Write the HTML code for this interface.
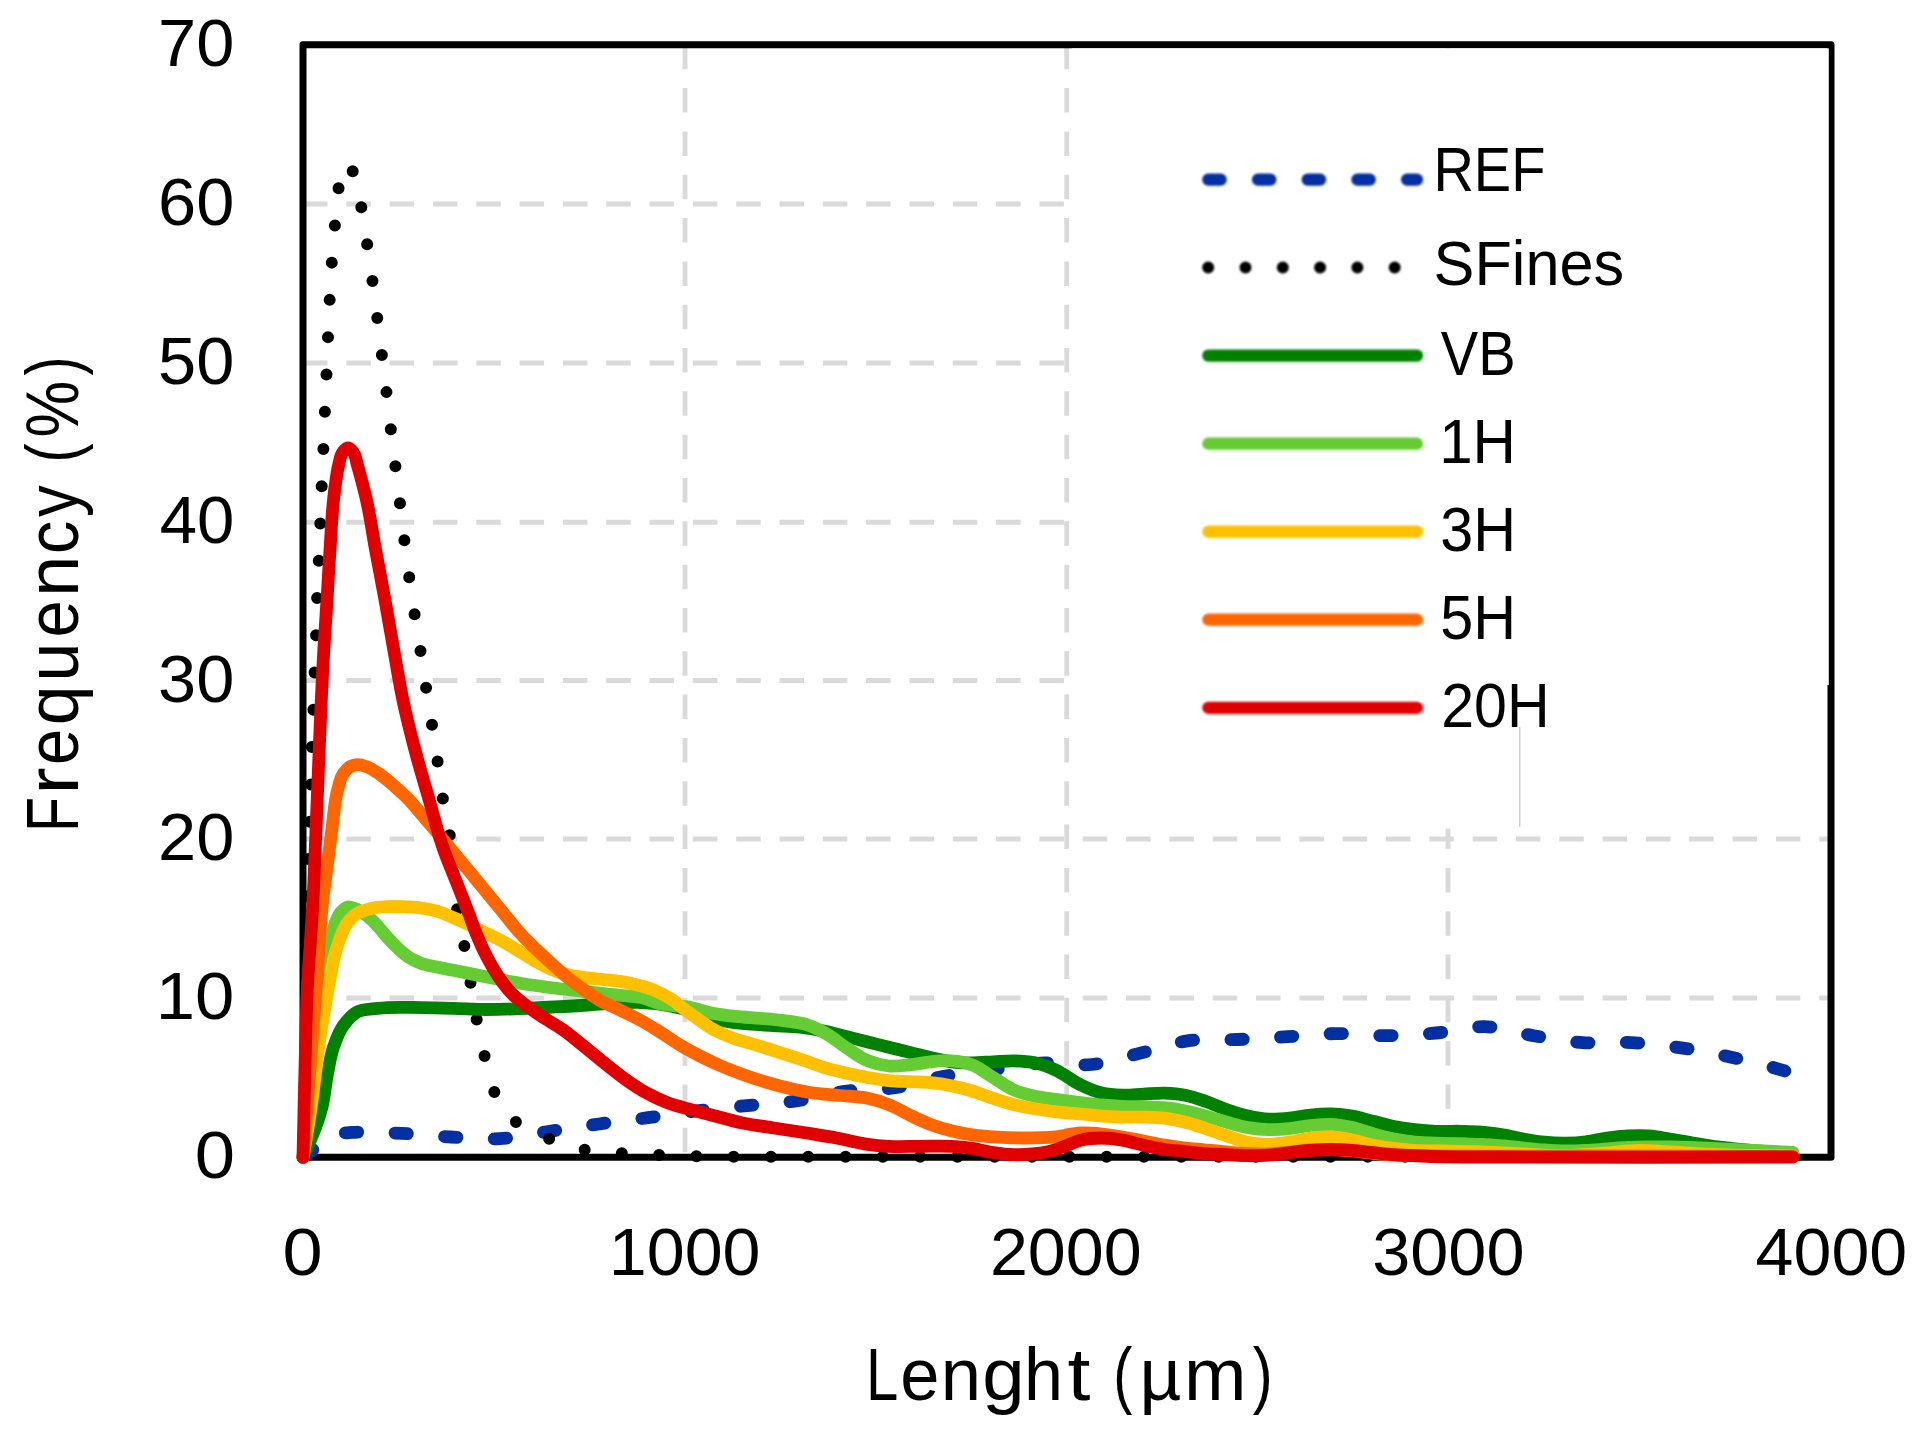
<!DOCTYPE html>
<html lang="en"><head><meta charset="utf-8"><title>Fibre length distribution</title>
<style>
html,body{margin:0;padding:0;background:#fff}
body{width:1924px;height:1437px;overflow:hidden}
svg{display:block;filter:blur(.75px)}
text{font-family:"Liberation Sans",sans-serif;fill:#000}
.g{stroke:#dadada;stroke-width:4.9;stroke-dasharray:24.5 18.82;fill:none}
.s{fill:none;stroke-width:12.8;stroke-linecap:round;stroke-linejoin:round}
</style></head><body>
<svg width="1924" height="1437" viewBox="0 0 1924 1437">
<rect width="1924" height="1437" fill="#fff"/>
<g class="g">
<path d="M303.0 998.0H1831.0"/>
<path d="M303.0 839.0H1831.0"/>
<path d="M303.0 680.5H1831.0"/>
<path d="M303.0 522.3H1831.0"/>
<path d="M303.0 363.0H1831.0"/>
<path d="M303.0 204.0H1831.0"/>
<path d="M685.0 44.8V1157.3"/>
<path d="M1066.7 44.8V1157.3"/>
<path d="M1448.0 44.8V1157.3"/>
</g>
<path d="M303.0 44.8H1831.0V1157.3H303.0Z" fill="none" stroke="#000" stroke-width="7" stroke-linejoin="round"/>
<rect x="1072" y="48.4" width="756.8" height="636.6" fill="#fff"/>
<rect x="1072" y="684" width="447.7" height="144.5" fill="#fff"/>
<path d="M1519.7 727V827" stroke="#cfcfcf" stroke-width="1.4" fill="none"/>
<g class="s">
<path d="M303.0 1157.3C306.3 1154.7 309.7 1152.1 313.0 1149.5C317.0 1146.3 320.7 1142.6 325.0 1140.0C329.9 1137.1 335.4 1134.7 341.0 1133.5C344.6 1132.7 348.3 1132.7 352.0 1132.4C368.5 1131.1 385.2 1132.6 401.7 1133.4C418.1 1134.2 434.4 1136.1 450.8 1137.0C467.1 1137.9 483.5 1139.5 499.8 1138.6C516.6 1137.7 533.2 1133.8 549.9 1131.3C566.3 1128.9 582.6 1126.3 599.0 1124.0C615.3 1121.7 631.7 1119.9 648.0 1117.7C664.2 1115.5 680.4 1112.9 696.7 1110.9C713.4 1108.9 730.1 1107.3 746.8 1105.6C763.2 1104.0 779.6 1103.3 795.9 1101.0C813.1 1098.5 829.8 1093.2 847.0 1091.0C862.2 1089.1 877.8 1090.1 893.0 1088.0C910.2 1085.6 926.9 1079.5 944.0 1076.4C961.6 1073.2 979.5 1071.3 997.3 1069.0C1013.3 1066.9 1029.2 1063.7 1045.3 1063.0C1060.6 1062.3 1076.2 1065.9 1091.3 1064.5C1107.5 1063.0 1123.4 1057.3 1139.3 1053.4C1155.4 1049.5 1171.0 1043.2 1187.3 1040.9C1203.8 1038.5 1220.8 1040.2 1237.5 1039.5C1254.0 1038.8 1270.6 1037.7 1287.1 1036.7C1303.6 1035.7 1320.1 1033.8 1336.6 1033.6C1353.0 1033.4 1369.3 1035.8 1385.7 1035.7C1402.4 1035.6 1419.2 1034.5 1435.8 1033.0C1452.1 1031.5 1468.3 1026.3 1484.5 1026.7C1500.9 1027.1 1517.1 1033.0 1533.5 1035.7C1549.8 1038.3 1566.2 1041.5 1582.6 1042.6C1598.9 1043.7 1615.3 1041.8 1631.6 1042.6C1648.1 1043.5 1664.7 1045.4 1681.1 1047.8C1697.6 1050.2 1713.9 1053.4 1730.2 1057.0C1746.4 1060.5 1762.6 1064.4 1778.6 1069.1C1783.4 1070.5 1788.2 1072.0 1793.0 1073.5" stroke="#022fa2" stroke-dasharray="12.4 37.3"/>
<path d="M303.0 1157.3C303.8 1120.1 304.8 1083.0 305.5 1045.8C306.7 983.4 306.3 921.0 308.4 858.7C308.8 846.2 309.4 833.6 309.8 821.1C310.2 808.6 310.5 796.0 310.9 783.5C311.2 771.1 311.5 758.7 311.9 746.3C312.3 734.1 313.0 722.0 313.4 709.8C313.9 697.3 314.2 684.7 314.6 672.2C315.1 659.7 315.7 647.1 316.1 634.6C316.5 622.4 316.7 610.1 317.1 597.9C317.6 585.4 318.3 573.0 318.8 560.5C319.3 548.0 319.8 535.4 320.3 522.9C320.8 510.7 321.2 498.4 321.7 486.2C322.2 473.7 322.9 461.1 323.4 448.6C323.9 436.1 324.4 423.7 324.9 411.2C325.4 398.7 326.0 386.3 326.5 373.8C327.0 361.5 327.5 349.2 328.0 336.9C328.5 324.4 329.1 312.0 329.7 299.5C330.3 287.1 330.9 274.8 331.8 262.4C332.7 250.1 333.8 237.7 334.9 225.4C336.0 212.9 336.6 200.4 338.6 188.0C339.3 183.7 339.8 179.3 341.0 175.1C342.1 171.1 342.5 163.0 345.3 163.5C346.5 163.7 348.4 165.4 349.6 166.6C350.8 167.9 351.7 169.6 352.6 171.1C359.1 181.8 359.0 195.4 361.4 207.7C363.8 219.8 365.4 232.2 367.2 244.4C369.1 256.7 370.8 269.1 372.5 281.4C374.2 293.7 375.7 306.0 377.3 318.3C378.9 330.6 380.4 343.0 381.9 355.3C383.4 367.7 385.0 380.0 386.5 392.4C388.0 404.6 389.3 416.8 390.8 429.0C392.3 441.4 393.9 453.9 395.4 466.3C396.9 478.7 398.5 491.1 400.0 503.5C401.5 515.8 402.9 528.2 404.4 540.5C405.9 552.7 407.5 565.0 409.2 577.2C410.9 589.5 412.7 601.9 414.6 614.2C416.5 626.4 418.6 638.7 420.5 650.9C422.4 663.2 424.2 675.5 426.1 687.8C428.0 700.1 430.1 712.3 432.0 724.6C433.9 736.9 435.8 749.3 437.6 761.6C439.4 773.8 440.8 786.0 442.8 798.1C444.8 810.3 448.0 822.4 449.7 834.7C451.3 846.7 451.6 858.9 452.8 871.0C454.0 883.5 455.1 896.1 457.0 908.6C458.9 921.0 462.0 933.2 464.3 945.6C466.6 958.1 468.5 970.7 470.6 983.2C472.7 995.5 474.4 1007.8 476.8 1020.0C479.1 1032.1 481.7 1044.1 484.6 1056.0C487.5 1067.9 489.1 1080.7 494.2 1091.6C499.4 1102.6 506.5 1113.9 515.5 1121.7C524.6 1129.5 537.1 1133.7 548.5 1138.4C559.7 1143.0 571.4 1147.0 583.3 1149.5C595.2 1152.0 607.7 1152.3 619.9 1153.2C632.4 1154.1 644.9 1154.5 657.4 1155.0C669.9 1155.5 682.5 1156.0 695.0 1156.3C707.4 1156.6 719.8 1156.7 732.2 1156.8C754.8 1157.0 777.4 1156.8 800.0 1156.8C866.7 1156.8 933.3 1156.8 1000.0 1156.8C1133.3 1156.8 1266.7 1156.8 1400.0 1156.8C1531.0 1156.8 1662.0 1156.8 1793.0 1156.8" stroke="#000" stroke-width="12" stroke-dasharray="0 37.3"/>
<path d="M303.0 1157.3C307.5 1146.5 312.7 1136.0 316.5 1125.0C318.6 1118.8 320.6 1112.5 322.2 1106.1C324.5 1096.5 325.2 1086.6 327.0 1076.9C328.9 1067.1 330.1 1057.1 333.3 1047.7C335.9 1040.2 338.6 1032.2 343.2 1025.8C346.8 1020.7 351.2 1015.2 356.5 1012.3C362.5 1009.0 370.6 1009.3 377.7 1008.4C392.1 1006.5 406.9 1007.5 421.5 1007.6C432.1 1007.7 442.8 1008.0 453.4 1008.3C464.5 1008.6 475.7 1009.5 486.8 1009.5C497.9 1009.5 509.1 1009.0 520.2 1008.6C531.3 1008.2 542.5 1007.6 553.6 1007.0C564.7 1006.4 575.9 1005.8 587.0 1005.0C592.5 1004.6 598.1 1004.2 603.6 1003.8C610.8 1003.3 617.9 1002.8 625.1 1002.6C630.5 1002.5 636.0 1002.3 641.4 1002.5C645.6 1002.7 649.8 1003.0 654.0 1003.5C660.3 1004.2 666.5 1005.3 672.7 1006.5C679.0 1007.8 685.3 1009.3 691.5 1011.0C697.8 1012.8 704.0 1015.1 710.3 1017.0C714.4 1018.2 718.6 1019.5 722.8 1020.5C731.0 1022.4 739.5 1023.2 747.9 1024.0C756.2 1024.8 764.6 1025.0 773.0 1025.5C782.0 1026.1 791.1 1026.2 800.0 1027.2C808.7 1028.2 817.5 1029.7 826.1 1031.5C833.1 1033.0 840.0 1035.0 847.0 1036.7C854.0 1038.5 860.9 1040.2 867.9 1042.0C874.9 1043.7 881.8 1045.5 888.8 1047.2C895.7 1048.9 902.7 1050.7 909.6 1052.4C916.6 1054.1 923.5 1056.0 930.5 1057.6C937.4 1059.2 944.4 1060.9 951.4 1061.8C958.3 1062.6 965.3 1062.8 972.3 1062.8C979.3 1062.8 986.2 1062.1 993.2 1061.8C1000.1 1061.5 1007.1 1060.6 1014.0 1060.8C1021.0 1061.0 1028.1 1061.3 1034.9 1062.8C1042.1 1064.3 1049.1 1067.1 1055.8 1070.1C1064.6 1074.1 1072.1 1080.9 1080.9 1085.0C1087.6 1088.2 1094.6 1091.4 1101.8 1093.1C1108.5 1094.7 1115.7 1095.0 1122.6 1095.2C1129.6 1095.4 1136.5 1094.5 1143.5 1094.2C1150.5 1093.8 1157.4 1092.9 1164.4 1093.1C1171.4 1093.3 1178.5 1093.8 1185.3 1095.2C1192.4 1096.6 1199.3 1099.1 1206.1 1101.5C1213.2 1104.0 1219.9 1107.3 1227.0 1109.8C1233.9 1112.2 1240.8 1114.5 1247.9 1116.1C1254.8 1117.6 1261.8 1118.9 1268.8 1119.2C1275.7 1119.5 1282.7 1118.9 1289.6 1118.2C1296.6 1117.5 1303.5 1115.7 1310.5 1115.0C1317.4 1114.3 1324.4 1113.8 1331.4 1114.0C1338.4 1114.2 1345.4 1114.9 1352.3 1116.1C1359.4 1117.3 1366.2 1119.6 1373.2 1121.3C1380.1 1123.0 1387.0 1125.1 1394.0 1126.5C1400.9 1127.9 1407.9 1128.8 1414.9 1129.6C1421.8 1130.4 1428.8 1131.0 1435.8 1131.3C1444.2 1131.7 1452.5 1131.1 1460.9 1131.3C1467.9 1131.5 1474.9 1131.6 1481.8 1132.2C1488.8 1132.8 1495.7 1133.8 1502.6 1134.9C1509.6 1136.0 1516.5 1137.8 1523.5 1139.0C1530.4 1140.2 1537.4 1141.5 1544.4 1142.2C1551.3 1142.9 1558.3 1143.3 1565.3 1143.2C1572.2 1143.1 1579.2 1142.7 1586.1 1141.8C1593.1 1140.9 1600.0 1139.0 1607.0 1138.0C1613.9 1137.0 1620.9 1136.2 1627.9 1135.9C1634.8 1135.6 1641.9 1135.4 1648.8 1135.9C1655.8 1136.4 1662.7 1137.9 1669.6 1139.0C1676.6 1140.1 1683.5 1141.3 1690.5 1142.5C1697.5 1143.7 1704.4 1145.0 1711.4 1146.0C1718.3 1147.0 1725.3 1147.7 1732.3 1148.5C1739.3 1149.2 1746.2 1149.8 1753.2 1150.5C1760.1 1151.2 1767.1 1151.9 1774.0 1152.5C1780.3 1153.1 1786.7 1153.5 1793.0 1154.0" stroke="#008200"/>
<path d="M303.0 1157.3C305.0 1138.2 307.0 1119.1 309.0 1100.0C311.0 1081.7 312.8 1063.3 315.0 1045.0C317.0 1028.3 319.0 1011.6 321.5 995.0C324.2 976.7 326.7 958.4 330.9 940.4C332.2 934.8 333.0 929.0 335.1 923.7C336.7 919.7 338.0 915.1 340.9 912.0C342.8 910.0 345.4 907.5 348.0 907.0C350.8 906.5 354.2 908.3 357.0 909.5C361.2 911.2 365.0 914.1 368.5 917.0C372.1 919.9 375.3 923.5 378.5 927.0C382.0 930.8 385.0 934.9 388.5 938.7C391.7 942.2 395.0 945.6 398.5 948.8C401.7 951.7 405.0 954.7 408.6 957.1C412.2 959.5 416.3 961.4 420.3 963.0C425.6 965.1 431.4 965.9 437.0 967.1C442.4 968.3 447.9 969.2 453.4 970.3C464.5 972.5 475.7 974.8 486.8 977.0C497.9 979.2 509.0 981.5 520.2 983.3C531.3 985.1 542.4 986.6 553.6 988.0C564.7 989.4 575.9 990.6 587.0 991.8C592.6 992.4 598.2 993.0 603.8 993.6C610.1 994.3 616.3 994.8 622.6 995.5C628.9 996.2 635.3 996.3 641.4 997.6C647.8 999.0 653.8 1002.3 660.2 1003.9C670.3 1006.4 681.2 1005.5 691.5 1007.7C697.8 1009.0 704.0 1011.3 710.3 1012.7C718.6 1014.5 727.0 1015.5 735.4 1016.4C743.7 1017.3 752.1 1017.6 760.4 1018.3C768.8 1019.0 777.2 1019.6 785.5 1020.8C792.1 1021.7 798.9 1022.3 805.3 1024.2C812.5 1026.4 819.5 1029.9 826.1 1033.6C833.5 1037.7 839.9 1043.6 847.0 1048.2C853.8 1052.6 860.4 1057.8 867.9 1060.8C874.5 1063.5 881.7 1065.3 888.8 1066.0C895.6 1066.6 902.7 1065.6 909.6 1064.9C916.6 1064.2 923.5 1062.5 930.5 1061.8C937.4 1061.1 944.5 1060.3 951.4 1060.8C958.4 1061.3 965.7 1062.5 972.3 1064.9C979.8 1067.7 986.2 1073.3 993.2 1077.5C1000.1 1081.7 1006.6 1086.8 1014.0 1090.0C1020.6 1092.9 1027.8 1094.6 1034.9 1096.2C1041.8 1097.7 1048.8 1098.4 1055.8 1099.4C1064.1 1100.6 1072.5 1101.5 1080.9 1102.5C1087.9 1103.3 1094.8 1104.4 1101.8 1105.0C1108.7 1105.6 1115.7 1106.0 1122.6 1106.3C1129.6 1106.6 1136.5 1106.5 1143.5 1106.7C1150.5 1106.9 1157.5 1107.0 1164.4 1107.7C1171.4 1108.4 1178.4 1109.5 1185.3 1110.9C1192.3 1112.3 1199.2 1114.2 1206.1 1116.1C1213.1 1118.0 1220.0 1120.4 1227.0 1122.3C1233.9 1124.2 1240.8 1126.4 1247.9 1127.6C1254.8 1128.8 1261.8 1129.4 1268.8 1129.6C1275.7 1129.8 1282.7 1129.3 1289.6 1128.6C1296.6 1127.9 1303.5 1126.2 1310.5 1125.5C1317.4 1124.8 1324.5 1124.1 1331.4 1124.4C1338.4 1124.7 1345.4 1126.1 1352.3 1127.6C1359.4 1129.2 1366.2 1131.9 1373.2 1133.8C1380.1 1135.7 1387.0 1137.6 1394.0 1139.0C1400.9 1140.4 1407.9 1141.5 1414.9 1142.2C1421.8 1142.9 1428.8 1142.9 1435.8 1143.2C1444.2 1143.5 1452.5 1143.8 1460.9 1144.0C1467.9 1144.2 1474.8 1144.2 1481.8 1144.5C1488.7 1144.8 1495.7 1145.4 1502.6 1146.0C1509.6 1146.6 1516.5 1147.3 1523.5 1148.0C1530.5 1148.7 1537.4 1149.5 1544.4 1150.0C1551.4 1150.5 1558.3 1150.9 1565.3 1151.0C1572.2 1151.1 1579.2 1150.8 1586.1 1150.5C1593.1 1150.2 1600.0 1149.5 1607.0 1149.0C1614.0 1148.5 1620.9 1147.8 1627.9 1147.5C1634.9 1147.2 1641.8 1147.1 1648.8 1147.0C1655.7 1146.9 1662.7 1146.9 1669.6 1147.0C1676.6 1147.1 1683.5 1147.3 1690.5 1147.5C1697.5 1147.8 1704.4 1148.2 1711.4 1148.5C1718.4 1148.8 1725.3 1149.2 1732.3 1149.5C1739.3 1149.8 1746.2 1150.2 1753.2 1150.5C1760.1 1150.8 1767.1 1151.2 1774.0 1151.5C1780.3 1151.8 1786.7 1152.2 1793.0 1152.5" stroke="#66cc33"/>
<path d="M303.0 1157.3C305.8 1140.2 308.9 1123.2 311.3 1106.1C312.7 1096.4 313.8 1086.6 315.0 1076.9C316.2 1067.2 317.3 1057.4 318.6 1047.7C320.6 1033.0 323.0 1018.4 325.5 1003.8C327.2 993.8 329.0 983.8 330.9 973.8C332.0 968.2 332.8 962.6 334.2 957.1C335.6 951.5 337.3 945.8 339.3 940.4C341.4 934.7 343.3 928.6 346.8 923.7C349.5 919.9 352.9 916.2 356.8 913.7C360.7 911.2 365.6 909.9 370.2 908.7C375.6 907.3 381.3 907.0 386.9 906.7C392.4 906.4 398.0 906.5 403.6 906.7C409.2 906.9 414.8 907.1 420.3 907.8C425.9 908.5 431.6 909.6 437.0 911.2C442.6 912.9 448.0 915.4 453.4 917.7C459.0 920.1 464.6 922.6 470.1 925.2C475.7 927.9 481.2 930.7 486.8 933.5C492.4 936.3 498.0 938.9 503.5 941.9C509.2 945.0 514.6 948.6 520.2 951.9C525.8 955.2 531.2 958.8 536.9 961.9C542.4 964.9 547.8 968.0 553.6 970.3C559.0 972.4 564.6 974.0 570.3 975.3C575.8 976.5 581.4 977.1 587.0 977.8C592.5 978.5 598.1 979.0 603.6 979.6C609.1 980.2 614.6 980.5 620.0 981.4C625.1 982.2 630.2 983.3 635.2 984.5C641.5 986.1 648.0 987.6 654.0 990.1C660.5 992.8 666.9 996.1 672.7 1000.1C677.1 1003.1 681.0 1007.0 685.3 1010.2C689.4 1013.2 693.6 1016.0 697.8 1018.9C702.0 1021.8 705.9 1025.1 710.3 1027.7C714.3 1030.1 718.5 1032.1 722.8 1034.0C726.9 1035.8 731.1 1037.5 735.4 1039.0C739.5 1040.4 743.7 1041.5 747.9 1042.7C756.3 1045.2 764.7 1047.7 773.0 1050.3C782.0 1053.1 791.0 1056.0 800.0 1059.0C808.7 1061.9 817.3 1065.5 826.1 1068.1C833.0 1070.1 840.0 1071.7 847.0 1073.3C853.9 1074.9 860.9 1076.3 867.9 1077.5C874.8 1078.7 881.8 1079.9 888.8 1080.6C895.7 1081.3 902.7 1081.3 909.6 1081.6C916.6 1082.0 923.6 1082.0 930.5 1082.7C937.5 1083.4 944.5 1084.4 951.4 1085.8C958.4 1087.2 965.4 1089.0 972.3 1091.0C979.4 1093.1 986.2 1096.0 993.2 1098.3C1000.1 1100.5 1007.0 1102.8 1014.0 1104.6C1020.9 1106.3 1027.9 1107.6 1034.9 1108.8C1041.8 1110.0 1048.8 1111.1 1055.8 1111.9C1064.1 1112.9 1072.5 1113.2 1080.9 1114.0C1087.9 1114.6 1094.8 1115.6 1101.8 1116.1C1108.7 1116.6 1115.7 1116.9 1122.6 1117.1C1129.6 1117.3 1136.5 1116.9 1143.5 1117.1C1150.5 1117.3 1157.5 1117.3 1164.4 1118.2C1171.4 1119.1 1178.4 1120.6 1185.3 1122.3C1192.3 1124.0 1199.2 1126.4 1206.1 1128.6C1213.1 1130.9 1220.0 1133.6 1227.0 1135.9C1233.9 1138.1 1240.8 1140.8 1247.9 1142.2C1254.7 1143.5 1261.8 1144.3 1268.8 1144.3C1275.7 1144.3 1282.7 1143.2 1289.6 1142.2C1296.6 1141.1 1303.5 1138.9 1310.5 1138.0C1317.4 1137.1 1324.5 1136.6 1331.4 1136.9C1338.4 1137.2 1345.4 1138.7 1352.3 1140.1C1359.3 1141.5 1366.2 1143.9 1373.2 1145.3C1380.1 1146.7 1387.0 1147.5 1394.0 1148.4C1400.9 1149.3 1407.9 1150.1 1414.9 1150.5C1423.2 1151.0 1431.6 1150.8 1440.0 1151.0C1453.9 1151.3 1467.9 1151.5 1481.8 1152.0C1495.7 1152.5 1509.6 1153.4 1523.5 1154.0C1537.4 1154.6 1551.4 1155.7 1565.3 1155.5C1579.2 1155.3 1593.1 1154.0 1607.0 1153.0C1617.3 1152.3 1627.7 1150.7 1638.0 1150.5C1648.5 1150.3 1659.1 1151.4 1669.6 1152.0C1683.5 1152.7 1697.5 1153.9 1711.4 1154.5C1725.3 1155.1 1739.3 1155.2 1753.2 1155.5C1766.5 1155.7 1779.7 1155.8 1793.0 1156.0" stroke="#ffc000"/>
<path d="M303.0 1157.3C305.2 1129.9 307.4 1102.4 309.5 1075.0C311.4 1050.0 313.3 1025.0 315.2 1000.0C316.2 986.7 317.3 973.3 318.3 960.0C319.7 941.7 320.4 923.3 322.3 905.0C323.9 888.9 326.4 872.9 328.4 856.9C329.8 845.8 331.1 834.6 332.6 823.5C334.1 812.3 334.6 800.9 337.6 790.1C339.2 784.4 340.0 778.1 343.4 773.4C345.2 770.9 347.4 768.2 350.1 766.7C352.1 765.6 354.5 764.9 356.8 764.7C360.1 764.4 363.6 765.6 366.8 766.7C371.0 768.2 374.8 770.9 378.5 773.4C384.5 777.3 389.8 782.1 395.2 786.8C400.0 791.0 404.8 795.4 409.2 800.0C414.1 805.1 418.4 810.7 423.0 816.0C428.0 821.8 433.0 827.6 438.0 833.5C442.6 839.0 447.1 844.5 451.7 850.0C457.8 857.4 463.9 864.8 470.0 872.2C475.0 878.3 480.0 884.4 485.0 890.5C490.0 896.6 495.0 902.6 500.0 908.7C506.7 916.8 512.9 925.3 520.0 933.0C527.8 941.6 536.4 949.6 545.0 957.5C553.1 965.0 561.3 972.7 570.0 979.5C574.9 983.3 579.9 986.9 585.0 990.5C589.9 993.9 594.8 997.5 600.0 1000.5C606.4 1004.2 613.4 1006.8 620.0 1010.0C626.7 1013.3 633.5 1016.4 640.0 1020.0C646.8 1023.7 653.4 1027.9 660.0 1032.0C666.7 1036.2 673.2 1040.9 680.0 1045.0C686.5 1048.9 693.2 1052.5 700.0 1056.0C706.6 1059.4 713.2 1062.5 720.0 1065.5C729.8 1069.8 739.9 1073.5 750.0 1077.0C759.9 1080.4 769.9 1083.4 780.0 1086.0C789.9 1088.5 799.9 1090.9 810.0 1092.5C819.9 1094.1 830.0 1094.5 840.0 1095.5C849.3 1096.4 858.8 1096.4 867.9 1098.3C875.0 1099.8 882.1 1101.9 888.8 1104.6C896.0 1107.4 902.6 1111.7 909.6 1115.0C916.5 1118.3 923.4 1121.7 930.5 1124.4C937.3 1126.9 944.3 1128.9 951.4 1130.7C958.3 1132.4 965.3 1133.9 972.3 1134.9C979.2 1135.9 986.2 1136.4 993.2 1136.9C1003.6 1137.6 1014.1 1138.0 1024.5 1138.0C1034.9 1138.0 1045.4 1137.9 1055.8 1136.9C1064.2 1136.0 1072.5 1133.4 1080.9 1133.0C1087.8 1132.7 1094.9 1133.3 1101.8 1134.0C1108.8 1134.7 1115.7 1135.8 1122.6 1137.0C1129.6 1138.2 1136.5 1139.7 1143.5 1141.0C1150.5 1142.3 1157.4 1143.8 1164.4 1145.0C1171.3 1146.2 1178.3 1147.2 1185.3 1148.0C1192.2 1148.8 1199.2 1149.3 1206.1 1150.0C1213.1 1150.7 1220.0 1151.4 1227.0 1152.0C1234.0 1152.6 1240.9 1153.2 1247.9 1153.5C1254.9 1153.8 1261.8 1154.3 1268.8 1154.0C1275.7 1153.7 1282.7 1152.7 1289.6 1152.0C1296.6 1151.3 1303.5 1150.4 1310.5 1150.0C1317.5 1149.6 1324.4 1149.3 1331.4 1149.5C1338.4 1149.7 1345.3 1150.3 1352.3 1151.0C1359.3 1151.7 1366.2 1152.8 1373.2 1153.5C1380.1 1154.2 1387.1 1154.7 1394.0 1155.0C1401.0 1155.3 1407.9 1155.4 1414.9 1155.5C1421.9 1155.6 1428.8 1155.7 1435.8 1155.8C1490.5 1156.5 1545.3 1155.9 1600.0 1156.0C1664.3 1156.1 1728.7 1156.3 1793.0 1156.5" stroke="#ff6600"/>
<path d="M303.0 1157.3C303.7 1124.9 304.3 1092.4 305.2 1060.0C305.9 1033.3 306.3 1006.6 307.8 980.0C308.5 966.8 309.6 953.6 310.5 940.4C311.4 926.9 312.3 913.5 313.0 900.0C313.9 883.3 314.5 866.7 315.2 850.0C315.9 833.3 316.5 816.7 317.2 800.0C317.9 783.3 318.5 766.7 319.2 750.0C319.9 733.3 320.5 716.7 321.3 700.0C322.1 683.3 322.9 666.7 323.8 650.0C324.8 633.3 326.0 616.7 327.0 600.0C328.0 583.3 328.9 566.7 330.0 550.0C331.1 533.3 331.7 516.6 333.5 500.0C334.2 493.3 335.0 486.6 336.0 480.0C336.8 475.0 337.4 469.9 338.7 465.0C339.9 460.5 340.1 454.9 343.2 451.6C344.5 450.2 346.4 448.0 348.0 448.0C349.6 448.0 351.5 450.2 352.8 451.6C355.9 454.9 356.0 460.5 357.4 465.0C358.9 469.9 360.2 475.0 361.5 480.0C363.2 486.6 365.0 493.3 366.5 500.0C370.3 516.5 372.5 533.3 375.6 550.0C378.7 566.7 382.0 583.3 385.0 600.0C388.0 616.6 390.8 633.3 393.8 650.0C396.8 666.7 399.4 683.4 402.9 700.0C406.4 716.8 410.6 733.4 415.0 750.0C419.4 766.8 424.4 783.4 429.2 800.0C434.0 816.7 437.9 833.7 443.8 850.0C446.3 857.1 449.2 864.0 452.0 871.0C454.7 877.9 457.6 884.9 460.3 891.8C463.0 898.7 465.7 905.6 468.4 912.6C471.0 919.5 473.4 926.6 476.2 933.5C479.1 940.6 482.1 947.6 485.6 954.4C489.2 961.6 493.1 968.7 497.6 975.3C502.4 982.4 507.5 989.6 513.8 995.5C516.1 997.6 518.5 999.6 520.9 1001.5C527.6 1006.9 534.7 1011.7 541.8 1016.5C548.6 1021.0 555.9 1024.8 562.6 1029.5C569.9 1034.6 576.6 1040.4 583.5 1046.0C590.5 1051.6 597.4 1057.4 604.4 1063.0C611.3 1068.5 618.1 1074.1 625.3 1079.2C632.0 1084.0 638.9 1088.7 646.1 1092.7C652.8 1096.4 659.8 1099.8 667.0 1102.5C673.8 1105.1 680.9 1106.9 687.9 1108.8C691.9 1109.9 696.0 1110.9 700.0 1112.0C703.8 1113.0 707.5 1114.0 711.3 1115.0C721.7 1117.7 732.1 1120.8 742.6 1123.0C752.9 1125.1 763.5 1126.4 773.9 1128.0C784.4 1129.6 794.8 1131.1 805.3 1132.8C815.7 1134.5 826.2 1136.1 836.6 1138.0C847.1 1139.9 857.4 1142.9 867.9 1144.3C874.8 1145.3 881.8 1145.9 888.8 1146.3C899.2 1146.9 909.7 1146.3 920.1 1146.3C930.5 1146.3 941.0 1145.7 951.4 1146.3C958.4 1146.7 965.4 1147.4 972.3 1148.4C979.3 1149.5 986.2 1151.5 993.2 1152.6C1000.1 1153.6 1007.1 1154.5 1014.0 1154.7C1021.0 1154.9 1028.0 1154.5 1034.9 1153.7C1041.9 1152.8 1049.0 1151.6 1055.8 1149.5C1059.9 1148.2 1063.9 1146.5 1068.0 1145.0C1072.3 1143.4 1076.5 1141.3 1080.9 1140.1C1087.6 1138.3 1094.8 1138.0 1101.8 1138.0C1108.7 1138.0 1115.8 1138.9 1122.6 1140.1C1129.7 1141.3 1136.5 1143.7 1143.5 1145.3C1150.4 1146.9 1157.4 1148.4 1164.4 1149.5C1171.3 1150.5 1178.3 1150.9 1185.3 1151.6C1192.2 1152.3 1199.2 1153.2 1206.1 1153.7C1213.1 1154.2 1220.0 1154.4 1227.0 1154.7C1234.0 1155.0 1240.9 1155.6 1247.9 1155.7C1254.9 1155.8 1261.9 1155.6 1268.8 1155.1C1275.8 1154.6 1282.7 1153.4 1289.6 1152.6C1296.6 1151.8 1303.5 1151.0 1310.5 1150.5C1317.5 1150.0 1324.4 1149.5 1331.4 1149.5C1338.4 1149.5 1345.3 1150.0 1352.3 1150.5C1359.3 1151.0 1366.2 1151.9 1373.2 1152.6C1380.1 1153.3 1387.1 1154.2 1394.0 1154.7C1401.0 1155.2 1407.9 1155.4 1414.9 1155.7C1421.9 1156.0 1428.8 1156.3 1435.8 1156.5C1457.2 1157.2 1478.6 1156.9 1500.0 1157.0C1597.7 1157.6 1695.3 1157.0 1793.0 1157.0" stroke="#e00000"/>
</g>
<g class="s" style="stroke-width:12.2;filter:blur(.8px)">
<path d="M1208.3 179.6H1417.0" stroke="#022fa2" stroke-dasharray="12.4 37.3"/>
<path d="M1208.2 267.5H1400.0" stroke="#000" stroke-width="12" stroke-dasharray="0 37.3"/>
<path d="M1208.3 355.6H1417.0" stroke="#008200"/>
<path d="M1208.3 443.7H1417.0" stroke="#66cc33"/>
<path d="M1208.3 531.7H1417.0" stroke="#ffc000"/>
<path d="M1208.3 619.7H1417.0" stroke="#ff6600"/>
<path d="M1208.3 707.8H1417.0" stroke="#e00000"/>
</g>
<text x="158.1" y="65.9" font-size="67.0" textLength="76.3" lengthAdjust="spacingAndGlyphs">70</text>
<text x="158.1" y="225.1" font-size="67.0" textLength="76.3" lengthAdjust="spacingAndGlyphs">60</text>
<text x="158.1" y="384.1" font-size="67.0" textLength="76.3" lengthAdjust="spacingAndGlyphs">50</text>
<text x="159.8" y="543.4" font-size="67.0" textLength="74.6" lengthAdjust="spacingAndGlyphs">40</text>
<text x="158.1" y="701.6" font-size="67.0" textLength="76.3" lengthAdjust="spacingAndGlyphs">30</text>
<text x="158.1" y="860.1" font-size="67.0" textLength="76.3" lengthAdjust="spacingAndGlyphs">20</text>
<text x="155.8" y="1019.1" font-size="67.0" textLength="78.6" lengthAdjust="spacingAndGlyphs">10</text>
<text x="194.8" y="1178.4" font-size="67.0" textLength="40.3" lengthAdjust="spacingAndGlyphs">0</text>
<text x="282.6" y="1275.0" font-size="67.0" textLength="40.1" lengthAdjust="spacingAndGlyphs">0</text>
<text x="608.8" y="1275.0" font-size="67.0" textLength="151.7" lengthAdjust="spacingAndGlyphs">1000</text>
<text x="989.9" y="1275.0" font-size="67.0" textLength="151.8" lengthAdjust="spacingAndGlyphs">2000</text>
<text x="1372.2" y="1275.0" font-size="67.0" textLength="152.3" lengthAdjust="spacingAndGlyphs">3000</text>
<text x="1755.6" y="1275.0" font-size="67.0" textLength="151.6" lengthAdjust="spacingAndGlyphs">4000</text>
<text y="1399.5" font-size="73.5"><tspan x="865.9" textLength="32.3" lengthAdjust="spacingAndGlyphs">L</tspan><tspan x="900.2" textLength="39.2" lengthAdjust="spacingAndGlyphs">e</tspan><tspan x="940.7" textLength="40.3" lengthAdjust="spacingAndGlyphs">n</tspan><tspan x="982.3" textLength="42.4" lengthAdjust="spacingAndGlyphs">g</tspan><tspan x="1024.1" textLength="39.0" lengthAdjust="spacingAndGlyphs">h</tspan><tspan x="1067.5" textLength="22.9" lengthAdjust="spacingAndGlyphs">t</tspan><tspan> </tspan><tspan x="1113.2" textLength="19.1" lengthAdjust="spacingAndGlyphs">(</tspan><tspan x="1139.5" textLength="41.9" lengthAdjust="spacingAndGlyphs">µ</tspan><tspan x="1184.0" textLength="62.5" lengthAdjust="spacingAndGlyphs">m</tspan><tspan x="1252.7" textLength="20.0" lengthAdjust="spacingAndGlyphs">)</tspan></text>
<text y="77.8" font-size="73.5" transform="rotate(-90)"><tspan x="-832.1" textLength="35.0" lengthAdjust="spacingAndGlyphs">F</tspan><tspan x="-794.7" textLength="27.3" lengthAdjust="spacingAndGlyphs">r</tspan><tspan x="-764.9" textLength="36.0" lengthAdjust="spacingAndGlyphs">e</tspan><tspan x="-725.3" textLength="39.8" lengthAdjust="spacingAndGlyphs">q</tspan><tspan x="-681.6" textLength="38.8" lengthAdjust="spacingAndGlyphs">u</tspan><tspan x="-637.4" textLength="37.2" lengthAdjust="spacingAndGlyphs">e</tspan><tspan x="-596.7" textLength="41.1" lengthAdjust="spacingAndGlyphs">n</tspan><tspan x="-553.9" textLength="33.3" lengthAdjust="spacingAndGlyphs">c</tspan><tspan x="-516.9" textLength="31.7" lengthAdjust="spacingAndGlyphs">y</tspan><tspan> </tspan><tspan x="-462.4" textLength="19.1" lengthAdjust="spacingAndGlyphs">(</tspan><tspan x="-437.6" textLength="56.7" lengthAdjust="spacingAndGlyphs">%</tspan><tspan x="-375.5" textLength="19.1" lengthAdjust="spacingAndGlyphs">)</tspan></text>
<text x="1433.4" y="190.7" font-size="62.5" textLength="112.0" lengthAdjust="spacingAndGlyphs">REF</text>
<text x="1433.6" y="285.4" font-size="62.5" textLength="190.6" lengthAdjust="spacingAndGlyphs">SFines</text>
<text x="1440.8" y="374.6" font-size="62.5" textLength="74.8" lengthAdjust="spacingAndGlyphs">VB</text>
<text x="1439.2" y="463.2" font-size="62.5" textLength="76.8" lengthAdjust="spacingAndGlyphs">1H</text>
<text x="1440.2" y="551.4" font-size="62.5" textLength="75.8" lengthAdjust="spacingAndGlyphs">3H</text>
<text x="1440.2" y="638.9" font-size="62.5" textLength="75.8" lengthAdjust="spacingAndGlyphs">5H</text>
<text x="1441.2" y="727.4" font-size="62.5" textLength="108.4" lengthAdjust="spacingAndGlyphs">20H</text>
</svg>
</body></html>
